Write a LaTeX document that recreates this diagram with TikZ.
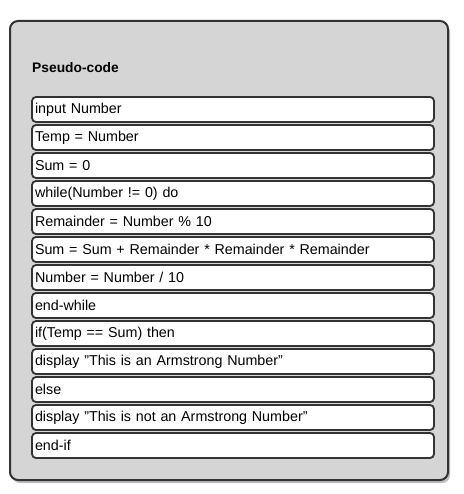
\documentclass[tikz,border=0pt]{standalone}
\usepackage{fontspec}
\setmainfont{Liberation Sans}
\usepackage{tikz}
\usetikzlibrary{positioning}
\definecolor{panelgray}{HTML}{D5D5D5}
\definecolor{edgegray}{HTML}{333333}

\begin{document}
\begin{tikzpicture}[
    x=1pt, y=-1pt,
    node distance=3pt,
    panel/.style={rounded corners=8pt, draw=edgegray, line width=2pt, fill=panelgray},
    row/.style={rectangle, rounded corners=4pt, draw=edgegray, line width=1.8pt, fill=white, text width=396pt, inner xsep=3pt, inner ysep=0pt, outer sep=0pt, minimum height=25pt, align=left, font=\fontsize{14.3}{16}\selectfont},
    title/.style={font=\bfseries\fontsize{13.8}{16}\selectfont, anchor=west, inner sep=0pt}
]
\useasboundingbox (0,0) rectangle (463,494);
% Panel with soft shadow
\fill[black!25, rounded corners=8pt] (12,24) rectangle (450,483);
\draw[panel] (10,21) rectangle (448,480);

\node[title] (head) at (32,68) {Pseudo-code};

% Code lines
\node[row, anchor=north west] (r1) at (32,97) {input Number};
\node[row, below=of r1] (r2) {Temp = Number};
\node[row, below=of r2] (r3) {Sum = 0};
\node[row, below=of r3] (r4) {while(Number != 0) do};
\node[row, below=of r4] (r5) {Remainder = Number \% 10};
\node[row, below=of r5] (r6) {Sum = Sum + Remainder * Remainder * Remainder};
\node[row, below=of r6] (r7) {Number = Number / 10};
\node[row, below=of r7] (r8) {end-while};
\node[row, below=of r8] (r9) {if(Temp == Sum) then};
\node[row, below=of r9] (r10) {display "This is an Armstrong Number"};
\node[row, below=of r10] (r11) {else};
\node[row, below=of r11] (r12) {display "This is not an Armstrong Number"};
\node[row, below=of r12] (r13) {end-if};
\end{tikzpicture}
\end{document}
